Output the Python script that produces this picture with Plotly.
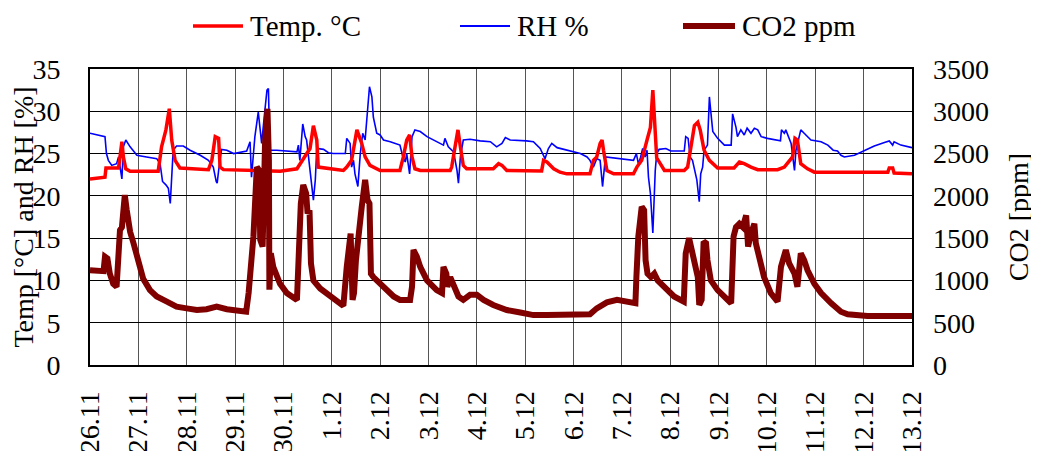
import pandas as pd
import plotly.graph_objects as go

START = "2012-11-26"
tick_labels = ["26.11", "27.11", "28.11", "29.11", "30.11", "1.12", "2.12", "3.12", "4.12",
               "5.12", "6.12", "7.12", "8.12", "9.12", "10.12", "11.12", "12.12", "13.12"]

# Temperature (days since 26.11, °C)
temp_day = [0.00, 0.31, 0.33, 0.59, 0.62, 0.66, 0.69, 0.74, 0.83, 1.41, 1.48, 1.57, 1.64, 1.69, 1.76,
            1.86, 2.45, 2.52, 2.59, 2.66, 2.69, 2.76, 3.93, 4.28, 4.55, 4.62, 4.69, 4.72, 5.24, 5.31,
            5.41, 5.52, 5.57, 5.62, 5.69, 5.79, 6.00, 6.41, 6.48, 6.55, 6.61, 6.66, 6.72, 6.83, 7.45,
            7.48, 7.55, 7.61, 7.66, 7.72, 7.79, 8.34, 8.45, 8.52, 8.62, 9.34, 9.38, 9.45, 9.59, 9.72,
            9.86, 10.34, 10.41, 10.48, 10.55, 10.59, 10.62, 10.69, 10.83, 11.24, 11.31, 11.41, 11.52,
            11.59, 11.64, 11.67, 11.72, 11.88, 12.29, 12.36, 12.43, 12.50, 12.57, 12.62, 12.70, 12.81,
            12.98, 13.32, 13.43, 13.53, 13.67, 13.81, 14.22, 14.36, 14.53, 14.58, 14.63, 14.70, 14.84,
            14.98, 16.50, 16.53, 16.60, 16.63, 17.00]
temp_val = [22.0, 22.2, 23.3, 23.3, 24.6, 26.4, 24.6, 23.2, 22.9, 22.9, 25.8, 27.8, 30.3, 26.6, 24.2,
            23.3, 23.1, 24.2, 27.0, 26.8, 23.4, 23.1, 22.9, 23.2, 25.6, 28.3, 26.6, 23.4, 23.0, 23.4,
            24.2, 27.8, 27.0, 26.2, 24.6, 23.6, 23.0, 23.0, 24.6, 26.6, 27.2, 24.6, 23.2, 23.0, 23.0,
            23.4, 25.8, 27.8, 25.8, 23.6, 23.2, 23.2, 23.8, 23.6, 23.0, 22.95, 24.2, 24.0, 23.2, 22.8,
            22.6, 22.6, 24.2, 24.6, 26.2, 26.6, 25.4, 23.0, 22.6, 22.6, 23.4, 24.2, 26.6,
            28.1, 32.5, 29.3, 24.5, 23.0, 23.0, 23.4, 26.2, 28.3, 28.7, 27.8, 25.4, 24.2,
            23.3, 23.3, 24.0, 23.8, 23.4, 23.1, 23.1, 23.4, 24.6, 26.8, 26.6, 23.8, 23.2,
            22.8, 22.8, 23.3, 23.3, 22.7, 22.6]

# Relative humidity (days since 26.11, %)
rh_day = [0.00, 0.31, 0.34, 0.38, 0.45, 0.55, 0.59, 0.62, 0.66, 0.69, 0.74, 0.83, 0.97, 1.17, 1.38,
          1.45, 1.50, 1.57, 1.62, 1.66, 1.69, 1.72, 1.79, 1.93, 2.07, 2.28, 2.45, 2.55, 2.61, 2.63,
          2.66, 2.72, 2.83, 2.97, 3.24, 3.31, 3.34, 3.41, 3.48, 3.55, 3.62, 3.66, 3.69, 3.72, 3.86,
          4.28, 4.31, 4.34, 4.40, 4.45, 4.48, 4.55, 4.62, 4.66, 4.69, 4.83, 4.93, 5.03, 5.28, 5.31,
          5.38, 5.41, 5.45, 5.48, 5.54, 5.59, 5.64, 5.69, 5.72, 5.78, 5.83, 5.86, 5.93, 6.00, 6.07,
          6.21, 6.41, 6.47, 6.52, 6.55, 6.61, 6.66, 6.72, 6.83, 6.97, 7.17, 7.31, 7.34, 7.41, 7.52,
          7.55, 7.59, 7.62, 7.66, 7.72, 7.86, 8.07, 8.28, 8.41, 8.52, 8.59, 8.69, 9.03, 9.17, 9.31,
          9.41, 9.48, 9.55, 9.66, 9.79, 10.00, 10.14, 10.28, 10.34, 10.41, 10.48, 10.55, 10.60, 10.66,
          10.83, 11.03, 11.24, 11.30, 11.34, 11.38, 11.43, 11.48, 11.52, 11.55, 11.59, 11.64, 11.69,
          11.72, 11.77, 11.91, 12.01, 12.29, 12.32, 12.37, 12.41, 12.46, 12.51, 12.55, 12.60, 12.63,
          12.67, 12.70, 12.77, 12.81, 12.84, 12.88, 12.98, 13.12, 13.26, 13.29, 13.36, 13.39, 13.46,
          13.53, 13.59, 13.67, 13.74, 13.81, 13.88, 14.01, 14.28, 14.30, 14.36, 14.39, 14.50, 14.57,
          14.60, 14.63, 14.70, 14.77, 14.91, 15.12, 15.26, 15.37, 15.46, 15.53, 15.60, 15.81, 16.01,
          16.22, 16.43, 16.53, 16.60, 16.63, 16.77, 17.00]
rh_val = [27.4, 27.0, 25.0, 24.2, 23.6, 23.8, 24.6, 23.4, 22.0, 25.8, 26.6, 25.8, 24.8, 24.6, 24.4,
          23.8, 21.7, 21.3, 20.9, 19.1, 21.9, 25.4, 25.9, 25.9, 25.4, 24.8, 24.2, 23.4, 21.7, 21.5,
          23.0, 25.5, 25.4, 25.0, 25.3, 26.4, 22.2, 27.0, 29.9, 26.2, 30.3, 32.5, 32.7, 25.4, 25.4,
          25.2, 26.0, 24.2, 28.5, 27.0, 26.6, 22.8, 19.5, 21.9, 25.6, 25.5, 25.1, 25.0, 25.0, 26.8,
          26.2, 23.4, 24.2, 22.6, 21.1, 25.0, 27.4, 26.6, 29.1, 32.9, 31.7, 29.3, 27.4, 27.2, 26.6,
          26.4, 26.0, 24.6, 24.0, 25.0, 22.6, 27.0, 27.8, 27.6, 27.0, 26.4, 26.0, 26.8, 25.8, 25.2,
          24.4, 23.0, 21.5, 24.6, 26.6, 26.7, 26.5, 26.4, 25.8, 26.2, 26.9, 26.6, 26.5, 26.4, 25.6,
          24.4, 25.6, 26.2, 25.7, 25.5, 25.2, 25.0, 24.6, 24.2, 23.4, 24.4, 24.2, 21.1, 24.6,
          24.5, 24.3, 24.2, 25.0, 23.8, 24.4, 25.6, 24.6, 25.4, 22.2, 20.3, 15.6, 23.0,
          25.0, 25.5, 25.6, 25.3, 25.3, 27.0, 26.8, 24.6, 24.2, 23.0, 21.9, 19.3, 22.6,
          23.4, 25.4, 26.0, 31.7, 29.9, 27.6, 26.8, 26.0, 26.0, 29.7, 28.1, 27.0, 27.8,
          27.2, 28.0, 27.4, 28.0, 27.8, 27.0, 26.8, 26.5, 27.8, 27.4, 27.8, 26.2, 23.0,
          25.4, 26.2, 27.8, 27.4, 26.6, 26.4, 26.0, 25.4, 25.3, 24.8, 24.6, 24.8, 25.3,
          25.9, 26.3, 26.5, 26.0, 26.4, 26.0, 25.7]

# CO2 (days since 26.11, ppm)
co2_day = [0.00, 0.28, 0.31, 0.36, 0.41, 0.48, 0.55, 0.59, 0.62, 0.66, 0.69, 0.72, 0.76, 0.79, 0.83,
           0.90, 0.97, 1.03, 1.10, 1.24, 1.38, 1.59, 1.79, 2.00, 2.21, 2.41, 2.62, 2.83, 3.03, 3.23,
           3.28, 3.32, 3.38, 3.45, 3.50, 3.52, 3.57, 3.62, 3.67, 3.70, 3.71, 3.74, 3.79, 3.93, 4.07,
           4.28, 4.31, 4.36, 4.41, 4.47, 4.50, 4.54, 4.57, 4.62, 4.76, 4.90, 5.10, 5.24, 5.31, 5.34,
           5.39, 5.43, 5.46, 5.50, 5.55, 5.62, 5.69, 5.74, 5.78, 5.81, 5.86, 6.00, 6.14, 6.28, 6.41,
           6.62, 6.66, 6.69, 6.76, 6.83, 6.97, 7.17, 7.28, 7.31, 7.37, 7.39, 7.45, 7.52, 7.62, 7.72,
           7.86, 8.00, 8.14, 8.34, 8.62, 8.90, 9.17, 9.45, 9.72, 10.00, 10.34, 10.48, 10.69, 10.90,
           11.10, 11.28, 11.30, 11.34, 11.41, 11.46, 11.49, 11.53, 11.60, 11.67, 11.74, 11.81, 11.95,
           12.08, 12.28, 12.32, 12.39, 12.43, 12.50, 12.57, 12.60, 12.65, 12.69, 12.74, 12.77, 12.84,
           12.98, 13.12, 13.26, 13.31, 13.36, 13.43, 13.50, 13.57, 13.61, 13.67, 13.74, 13.77, 13.84,
           13.94, 14.08, 14.22, 14.29, 14.39, 14.46, 14.57, 14.63, 14.70, 14.77, 14.84, 14.98, 15.12,
           15.33, 15.53, 15.67, 16.08, 17.00]
co2_val = [1120, 1110, 1280, 1260, 1080, 960, 925, 1200, 1595, 1630, 1870, 2010, 1830, 1710, 1575,
           1440, 1280, 1140, 1020, 885, 810, 750, 690, 670, 650, 660, 690, 660, 640, 630,
           850, 1080, 1520, 2340, 2300, 1480, 1400, 2620, 3030, 2420, 890, 1320, 1160, 960, 850,
           770, 1200, 1910, 2130, 2030, 1790, 1830, 1200, 1000, 905, 850, 750, 700, 1160, 1360,
           1555, 770, 850, 1240, 1555, 1870, 2190, 1950, 1910, 1080, 1040, 960, 890, 810, 770,
           770, 925, 1360, 1280, 1160, 1000, 885, 850, 1160, 1080, 925, 1040, 925, 810, 770,
           830, 830, 770, 710, 650, 620, 590, 590, 590, 590, 600, 670, 740, 770,
           750, 730, 1040, 1520, 1870, 1830, 1240, 1080, 1040, 1080, 1000, 960, 885,
           810, 750, 1320, 1500, 1400, 1280, 1040, 710, 770, 1460, 1440, 1240, 1000,
           885, 810, 730, 1520, 1630, 1670, 1630, 1770, 1400, 1555, 1670, 1440, 1240,
           1040, 850, 750, 1160, 1360, 1200, 1080, 925, 1320, 1240, 1120, 960, 850,
           730, 630, 600, 580, 580]

t0 = pd.Timestamp(START)
def to_time(days):
    return t0 + pd.to_timedelta(days, unit="D")

FONT = "Liberation Serif, Times New Roman, serif"
C_TEMP, C_RH, C_CO2 = "#FF0000", "#0000FF", "#800000"

fig = go.Figure()
fig.add_trace(go.Scatter(x=to_time(rh_day), y=rh_val, name="RH %", mode="lines",
                         line=dict(color=C_RH, width=1.6), showlegend=False))
fig.add_trace(go.Scatter(x=to_time(temp_day), y=temp_val, name="Temp. °C", mode="lines",
                         line=dict(color=C_TEMP, width=3.5), showlegend=False))
fig.add_trace(go.Scatter(x=to_time(co2_day), y=co2_val, name="CO2 ppm", mode="lines", yaxis="y2",
                         line=dict(color=C_CO2, width=6), showlegend=False))

tickvals = [to_time(i) for i in range(len(tick_labels))]

# page has an 8px body margin, so the figure is sized to fit the 1039x451 window
fig.update_layout(
    width=1031, height=443,
    margin=dict(l=82, r=127, t=61, b=86),
    paper_bgcolor="white", plot_bgcolor="white",
    font=dict(family=FONT, size=28, color="black"),
    xaxis=dict(range=[tickvals[0], tickvals[-1]], tickvals=tickvals, ticktext=tick_labels,
               tickangle=-90, showgrid=True, gridcolor="#555555", gridwidth=1,
               showline=True, linecolor="black", linewidth=2, mirror=True, automargin=False,
               ticks="", ticklabelstandoff=13, zeroline=False),
    yaxis=dict(range=[0, 35], dtick=5, tick0=0, showgrid=True, gridcolor="black", gridwidth=1,
               showline=True, linecolor="black", linewidth=2, mirror=True, ticks="", automargin=False,
               ticklabelstandoff=22, zeroline=False,
               title=dict(text="Temp [°C] and RH [%]", standoff=0, font=dict(size=28))),
    yaxis2=dict(range=[0, 3500], dtick=500, tick0=0, overlaying="y", side="right", automargin=False,
                showgrid=False, ticks="", ticklabelstandoff=20, zeroline=False,
                title=dict(text="CO2 [ppm]", standoff=20, font=dict(size=28))),
)

# Legend drawn at the top (line sample + label); page pixel -> paper coordinates
PL, PW, PT, PH = 90, 822, 69, 296
def px(xp):
    return (xp - PL) / PW
def py(yp):
    return (PT + PH - yp) / PH

legend_items = [("Temp. °C", C_TEMP, 3.5, 193, 243), ("RH %", C_RH, 2, 460, 510), ("CO2 ppm", C_CO2, 6, 683, 735)]
for label, color, w, x0, x1 in legend_items:
    fig.add_shape(type="line", xref="paper", yref="paper", x0=px(x0), x1=px(x1), y0=py(26), y1=py(26),
                  line=dict(color=color, width=w))
    fig.add_annotation(xref="paper", yref="paper", x=px(x1 + 5), y=py(26), text=label, showarrow=False,
                       xanchor="left", yanchor="middle", font=dict(family=FONT, size=29, color="black"))

fig.write_html("out.html")
